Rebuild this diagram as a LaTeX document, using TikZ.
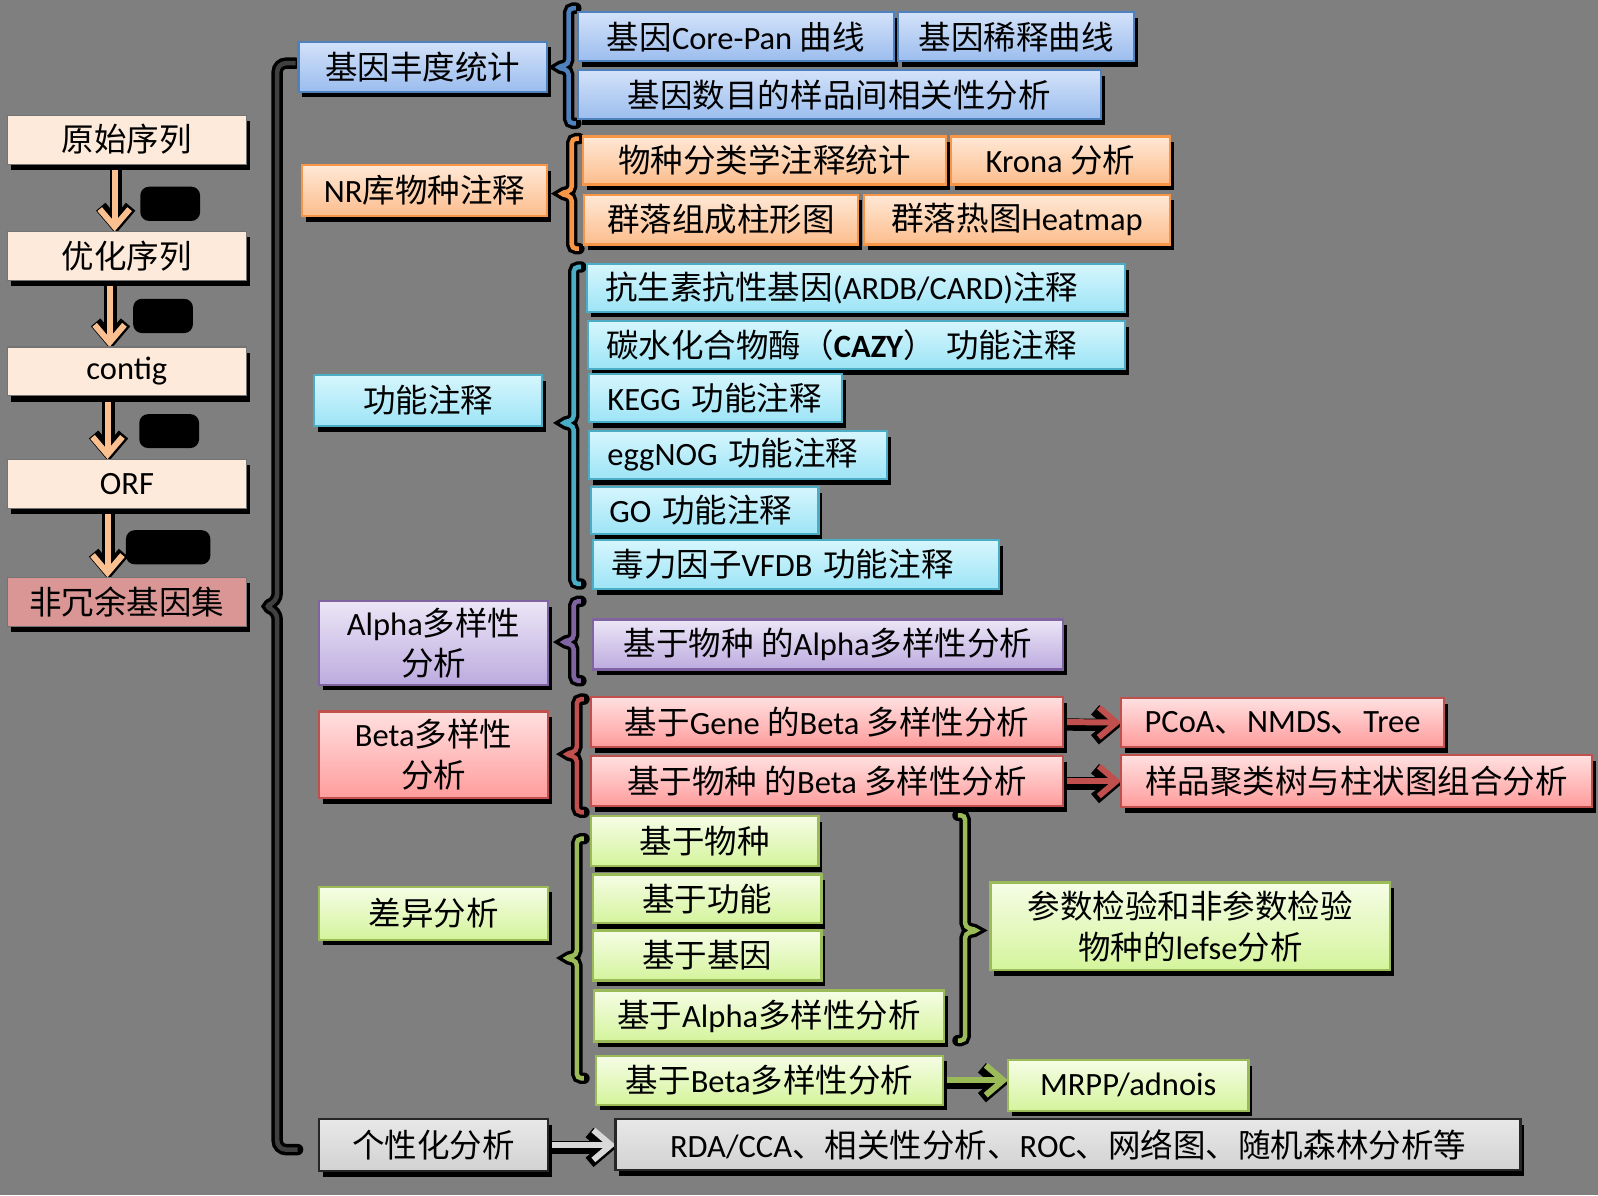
\documentclass[tikz,border=0pt]{standalone}
\usepackage{fontspec}
\setmainfont{Noto Sans CJK SC}
\newfontfamily\en{Carlito}
\usetikzlibrary{arrows.meta,shadows,backgrounds}

\definecolor{bggrey}{HTML}{7F7F7F}
\definecolor{peach}{HTML}{FAC090}
\definecolor{peachfill}{HTML}{FDEADA}
\definecolor{nrgfill}{HTML}{D99694}
\definecolor{bluline}{HTML}{4F81BD}
\definecolor{blutop}{HTML}{D3E2F9}
\definecolor{blubot}{HTML}{9BBDEE}
\definecolor{orgline}{HTML}{F79646}
\definecolor{orgtop}{HTML}{FFE8D6}
\definecolor{orgbot}{HTML}{FCBD8C}
\definecolor{cyanline}{HTML}{4BACC6}
\definecolor{cyantop}{HTML}{D6F6FD}
\definecolor{cyanbot}{HTML}{9DE4F6}
\definecolor{purline}{HTML}{8064A2}
\definecolor{purtop}{HTML}{ECE6F6}
\definecolor{purbot}{HTML}{BCABDF}
\definecolor{redline}{HTML}{C0504D}
\definecolor{redtop}{HTML}{FFE0E0}
\definecolor{redbot}{HTML}{FF9C9C}
\definecolor{grnline}{HTML}{9BBB59}
\definecolor{grntop}{HTML}{F6FDE6}
\definecolor{grnbot}{HTML}{D4F49C}
\definecolor{gryline}{HTML}{262626}
\definecolor{grytop}{HTML}{E8E8E8}
\definecolor{grybot}{HTML}{D2D2D2}
\definecolor{gryarr}{HTML}{D9D9D9}
\definecolor{braceline}{HTML}{404040}

\newcommand{\px}{0.2038mm}
% left bracket: colour, x, top, bottom, y of the nub
\newcommand{\lbrk}[5]{\draw[brk=#1] (#2+7,#3) -- (#2,#3) -- (#2,#5-3) -- (#2-12,#5) -- (#2,#5+3) -- (#2,#4) -- (#2+7,#4);}

\tikzset{
  box/.style={rectangle, draw=#1, line width=1.3pt, inner sep=0pt, outer sep=0pt, align=center,
    font=\fontsize{18.5}{23}\selectfont,
    drop shadow={shadow xshift=2.2pt, shadow yshift=-3.2pt, fill=black, opacity=1}},
  sz/.style 2 args={minimum width=#1*\px, minimum height=#2*\px},
  lsz/.style 2 args={text width=(#1-36)*\px, inner xsep=18*\px, minimum height=#2*\px, align=left},
  seqbox/.style={box=black!55, line width=0.6pt, fill=peachfill, sz={235}{48}},
  blubox/.style={box=bluline, top color=blutop, bottom color=blubot},
  orgbox/.style={box=orgline, top color=orgtop, bottom color=orgbot},
  cyanbox/.style={box=cyanline, top color=cyantop, bottom color=cyanbot},
  purbox/.style={box=purline, top color=purtop, bottom color=purbot},
  redbox/.style={box=redline, top color=redtop, bottom color=redbot},
  grnbox/.style={box=grnline, top color=grntop, bottom color=grnbot},
  grybox/.style={box=gryline, top color=grytop, bottom color=grybot},
  tag/.style={fill=black, text=black, rounded corners=5pt, inner sep=3pt,
    font=\bfseries\fontsize{14}{16}\selectfont},
  brk/.style={draw=#1, line width=2.6pt, rounded corners=2.5pt,
    preaction={draw=black, line width=6.5pt, line cap=round}},
  arr/.style={draw=#1, line width=3.4pt, -{Straight Barb[length=10pt,width=17pt,line width=3.4pt]}},
  arrsh/.style={draw=black, line width=7pt, -{Straight Barb[length=10pt,width=17pt,line width=7pt]},
    transform canvas={xshift=0.6pt,yshift=-1.4pt}},
}

\begin{document}
\begin{tikzpicture}[x=0.2038mm, y=-0.2038mm]
\useasboundingbox (0,0) rectangle (1568,1173);

% sequence steps
\node[seqbox] (src) at (124.5,137) {原始序列};
\node[seqbox] (opt) at (124.5,251) {优化序列};
\node[seqbox] (ctg) at (124.5,364.5) {{\en contig}};
\node[seqbox] (orf) at (124.5,474.5) {{\en ORF}};
\node[seqbox, fill=nrgfill] (nrg) at (124.5,590.5) {非冗余基因集};
\node[tag] (tqc) at (167,200) {质控};
\node[tag] (tasm) at (160,310) {组装};
\node[tag] (tpred) at (166,423) {预测};
\node[tag] (tdedup) at (165,537) {去冗余};

% first level
\node[blubox, sz={244}{49}] (abund) at (415,65.5) {基因丰度统计};
\node[orgbox, sz={241}{50}] (nr) at (416.5,187) {{\en NR}库物种注释};
\node[cyanbox, sz={224}{50}] (func) at (420,393) {功能注释};
\node[purbox, sz={225}{82}] (alpha) at (425.5,631) {{\en Alpha}多样性\\分析};
\node[redbox, sz={225}{85}] (beta) at (425.5,740.5) {{\en Beta}多样性\\分析};
\node[grnbox, sz={225}{52}] (diff) at (425.5,896) {差异分析};
\node[grybox, sz={225}{51}] (pers) at (425.5,1123.5) {个性化分析};

% gene abundance
\node[blubox, sz={310}{48}] (cpan) at (722,36) {基因{\en Core-Pan }曲线};
\node[blubox, sz={232}{48}] (rare) at (997,36) {基因稀释曲线};
\node[blubox, sz={513}{48}] (corr) at (823.5,93) {基因数目的样品间相关性分析};

% NR
\node[orgbox, sz={356}{47}] (taxa) at (750,157.5) {物种分类学注释统计};
\node[orgbox, sz={215}{47}] (krona) at (1040.5,157.5) {{\en Krona }分析};
\node[orgbox, sz={269}{49}] (bar) at (707.5,215.5) {群落组成柱形图};
\node[orgbox, sz={300}{49}] (heat) at (998,215.5) {群落热图{\en Heatmap}};

% function
\node[cyanbox, lsz={528}{47}] (ardb) at (840,282.5) {抗生素抗性基因{\en (ARDB/CARD)}注释};
\node[cyanbox, lsz={527}{47}] (cazy) at (840.5,338.5) {碳水化合物酶（{\en\bfseries CAZY}）{\en\ }功能注释};
\node[cyanbox, lsz={248}{47}] (kegg) at (702,390.5) {{\en KEGG }功能注释};
\node[cyanbox, lsz={292}{47}] (egg) at (724,446.5) {{\en eggNOG }功能注释};
\node[cyanbox, lsz={223}{46}] (go) at (691.5,501) {{\en GO }功能注释};
\node[cyanbox, lsz={398}{48}] (vfdb) at (781,554) {毒力因子{\en VFDB }功能注释};

% alpha, beta
\node[purbox, sz={461}{49}] (alphasp) at (812.5,632.5) {基于物种{\en\ }的{\en Alpha}多样性分析};
\node[redbox, sz={463}{49}] (betag) at (811.5,708.5) {基于{\en Gene }的{\en Beta }多样性分析};
\node[redbox, sz={463}{49}] (betas) at (811.5,766.5) {基于物种{\en\ }的{\en Beta }多样性分析};
\node[redbox, sz={317}{48}] (pcoa) at (1258.5,709) {{\en PCoA}、{\en NMDS}、{\en Tree}};
\node[redbox, sz={462}{51}] (clust) at (1331,766.5) {样品聚类树与柱状图组合分析};

% differences
\node[grnbox, sz={223}{49}] (dsp) at (691.5,825.5) {基于物种};
\node[grnbox, sz={224}{48}] (dfun) at (694,882) {基于功能};
\node[grnbox, sz={224}{49}] (dgen) at (694,937.5) {基于基因};
\node[grnbox, sz={343}{50}] (dalpha) at (754.5,997) {基于{\en Alpha}多样性分析};
\node[grnbox, sz={340}{48}] (dbeta) at (755,1060) {基于{\en Beta}多样性分析};
\node[grnbox, sz={236}{50}] (mrpp) at (1107,1065) {{\en MRPP/adnois}};
\node[grnbox, sz={392}{86}] (lefse) at (1168,909) {参数检验和非参数检验\\物种的{\en lefse}分析};

% personal
\node[grybox, sz={888}{50}] (rda) at (1048,1123) {{\en RDA/CCA}、相关性分析、{\en ROC}、网络图、随机森林分析等};

\begin{pgfonlayer}{background}
\fill[bggrey] (0,0) rectangle (1568,1173);
% brackets
\draw[brk=braceline, rounded corners=5pt] (290,62) -- (272,62) -- (272,591) -- (258,595) -- (272,599) -- (272,1128) -- (292,1128);
\lbrk{bluline}{558}{8}{121}{66}
\lbrk{orgline}{561}{136}{244}{190}
\lbrk{cyanline}{563}{262}{573}{415}
\lbrk{purline}{563}{590}{668}{630}
\lbrk{redline}{566}{686}{797}{740}
\lbrk{grnline}{566}{823}{1058}{940}
\draw[brk=grnline] (940,800) -- (947,800) -- (947,910) -- (960,913) -- (947,916) -- (947,1021) -- (940,1021);
% arrows
\foreach \a/\b/\dx in {src/opt/-12,opt/ctg/-17,ctg/orf/-19,orf/nrg/-19}{
  \draw[arrsh] ([xshift=\dx*\px]\a.south) -- ([xshift=\dx*\px]\b.north);
  \draw[arr=peach] ([xshift=\dx*\px]\a.south) -- ([xshift=\dx*\px]\b.north);
}
\draw[arrsh] (betag.east) -- (pcoa.west);
\draw[arr=redline] (betag.east) -- (pcoa.west);
\draw[arrsh] (betas.east) -- (clust.west);
\draw[arr=redline] (betas.east) -- (clust.west);
\draw[arrsh] (dbeta.east) -- (dbeta.east -| mrpp.west);
\draw[arr=grnline] (dbeta.east) -- (dbeta.east -| mrpp.west);
\draw[arrsh] (pers.east) -- (pers.east -| rda.west);
\draw[arr=gryarr] (pers.east) -- (pers.east -| rda.west);
\end{pgfonlayer}

\end{tikzpicture}
\end{document}
